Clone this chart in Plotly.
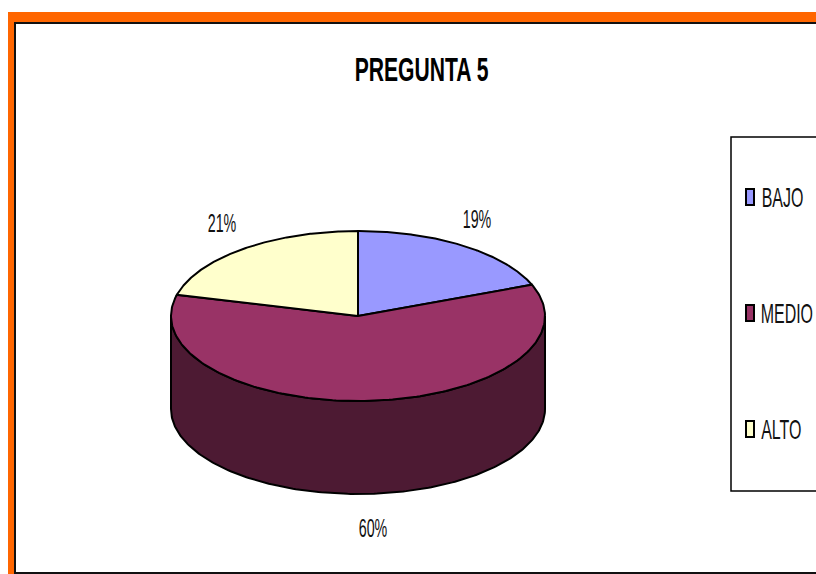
"""Pregunta 5: pastel 3D hecho con trazos rellenos, la libreria no trae pie 3D."""

import numpy as np
import plotly.graph_objects as go

TITLE = "PREGUNTA 5"
CATEGORIES = ["BAJO", "MEDIO", "ALTO"]
VALUES = [19, 60, 21]
TOP_COLORS = ["#9999FF", "#993366", "#FFFFCC"]
SIDE_COLORS = ["#4D4D80", "#4D1A33", "#808066"]

# geometry of the pie, in page pixels
CX, CY, RX, RY, DEPTH = 358, 316, 187, 85, 93
LABEL_DX = [-7, 1, 2]
LABEL_DY = [-2, 4, -2]
LEGEND_Y = [197, 313, 429]
LEGEND_X = [782, 786.5, 781.5]
FONT = "Liberation Sans, Arial, sans-serif"


def ellipse(deg, drop=0):
    # angles run clockwise from 12 o'clock
    t = np.radians(deg)
    return CX + RX * np.sin(t), CY + drop - RY * np.cos(t)


fig = go.Figure()

edges = np.cumsum([0] + VALUES) / sum(VALUES) * 360

# side wall, only the front half (90-270 deg) can be seen
for i, name in enumerate(CATEGORIES):
    a, b = max(edges[i], 90), min(edges[i + 1], 270)
    if a >= b:
        continue
    deg = np.linspace(a, b, 200)
    x1, y1 = ellipse(deg)
    x2, y2 = ellipse(deg[::-1], DEPTH)
    fig.add_trace(go.Scatter(
        x=np.r_[x1, x2, x1[0]], y=np.r_[y1, y2, y1[0]],
        mode="lines", fill="toself", fillcolor=SIDE_COLORS[i],
        line=dict(color="black", width=2), hoverinfo="skip", showlegend=False,
    ))

# top face
for i, name in enumerate(CATEGORIES):
    deg = np.linspace(edges[i], edges[i + 1], 200)
    x, y = ellipse(deg)
    fig.add_trace(go.Scatter(
        x=np.r_[CX, x, CX], y=np.r_[CY, y, CY],
        mode="lines", fill="toself", fillcolor=TOP_COLORS[i],
        line=dict(color="black", width=2), name=name,
        text=f"{name}: {VALUES[i]}%", hoverinfo="text", showlegend=False,
    ))

# percent labels outside the pie
for i, v in enumerate(VALUES):
    mid = np.radians((edges[i] + edges[i + 1]) / 2)
    drop = DEPTH if np.cos(mid) < 0 else 0
    fig.add_annotation(
        x=CX + RX * np.sin(mid) * 1.2 + LABEL_DX[i],
        y=CY + drop - RY * np.cos(mid) * 1.35 + LABEL_DY[i],
        text=f"{v}%", showarrow=False, font=dict(family=FONT, size=25, color="#111111"),
    )

shapes = [
    # orange frame and thin black inner border
    dict(type="rect", x0=8, x1=816, y0=12, y1=574, fillcolor="#FF6600", line_width=0, layer="below"),
    dict(type="rect", x0=15, x1=820, y0=23, y1=573, fillcolor="white",
         line=dict(color="#111111", width=2), layer="below"),
    # legend box
    dict(type="rect", x0=731, x1=820, y0=137, y1=491, fillcolor="white",
         line=dict(color="black", width=1.5), layer="below"),
]
for name, color, x, y in zip(CATEGORIES, TOP_COLORS, LEGEND_X, LEGEND_Y):
    shapes.append(dict(type="rect", x0=746, x1=754, y0=y - 8, y1=y + 8, fillcolor=color,
                       line=dict(color="black", width=2)))
    fig.add_annotation(x=x, y=y, text=name, showarrow=False,
                       font=dict(family=FONT, size=28, color="#111111"))

fig.add_annotation(x=421, y=69, text=TITLE, showarrow=False,
                   font=dict(family=FONT, size=33, color="black", weight=700))

fig.update_layout(
    width=816, height=574,
    margin=dict(l=0, r=0, t=0, b=0),
    paper_bgcolor="white", plot_bgcolor="white",
    shapes=shapes, showlegend=False,
    xaxis=dict(range=[0, 816], visible=False, fixedrange=True),
    yaxis=dict(range=[574, 0], visible=False, fixedrange=True),
)

# the reference text is tall and condensed, no narrow font here so squeeze the glyphs
SQUEEZE_JS = """
document.body.style.margin = '0';
function squeeze() {
  document.querySelectorAll('.annotation-text').forEach(function (t) {
    if (t.hasAttribute('textLength')) return;
    var f = t.textContent === '%s' ? 0.64 : 0.57;
    t.setAttribute('textLength', t.getComputedTextLength() * f);
    t.setAttribute('lengthAdjust', 'spacingAndGlyphs');
  });
}
squeeze();
setTimeout(squeeze, 50);
""" % TITLE

fig.write_html("out.html", post_script=SQUEEZE_JS, config=dict(displayModeBar=False))
